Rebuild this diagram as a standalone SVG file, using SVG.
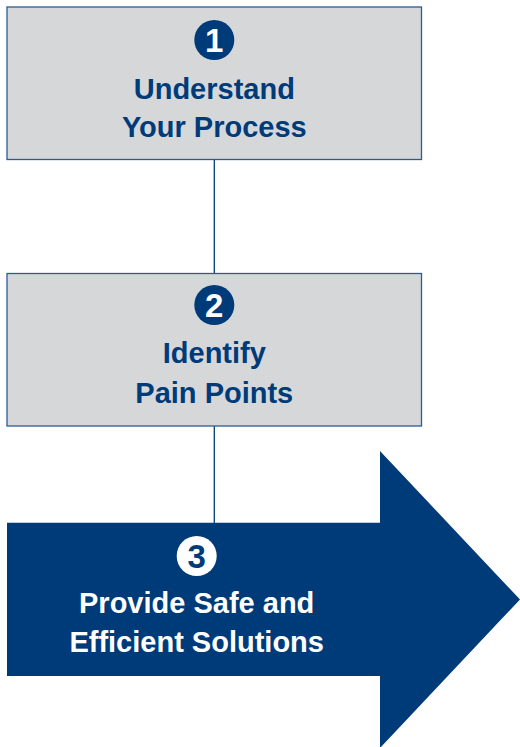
<svg xmlns="http://www.w3.org/2000/svg" width="520" height="747" viewBox="0 0 520 747">
<style>
.box{fill:#D6D7D9;stroke:#2D5A94;stroke-width:1.3}
.lbl{font-family:"Liberation Sans",Arial,sans-serif;font-weight:bold;font-size:29px;text-anchor:middle}
.blue{fill:#003B79}
.white{fill:#FFFFFF}
.num{font-family:"Liberation Sans",Arial,sans-serif;font-weight:bold;font-size:33px;text-anchor:middle}
.conn{stroke:#003B79;stroke-width:1.3;fill:none}
</style>
<rect width="520" height="747" fill="#FFFFFF"/>
<g id="connectors">
<line class="conn" x1="214.3" y1="160" x2="214.3" y2="273"/>
<line class="conn" x1="214.3" y1="426" x2="214.3" y2="523"/>
</g>
<g id="step1">
<rect class="box" x="7" y="7" width="414.5" height="152.5"/>
<circle class="blue" cx="214.3" cy="40" r="20"/>
<text class="num white" x="214.3" y="51.8">1</text>
<text class="lbl blue" x="214.3" y="99">Understand</text>
<text class="lbl blue" x="214.3" y="136.5">Your Process</text>
</g>
<g id="step2">
<rect class="box" x="7" y="273.5" width="414.5" height="152.5"/>
<circle class="blue" cx="214.3" cy="305" r="20"/>
<text class="num white" x="214.3" y="316.8">2</text>
<text class="lbl blue" x="214.3" y="363.3">Identify</text>
<text class="lbl blue" x="214.3" y="402.5">Pain Points</text>
</g>
<g id="step3">
<path class="blue" d="M7 522.7 H380 V451 L520 599.5 L380 748 V676 H7 Z"/>
<circle class="white" cx="196.7" cy="556" r="20"/>
<text class="num blue" x="196.7" y="567.8">3</text>
<text class="lbl white" x="196.7" y="613.3">Provide Safe and</text>
<text class="lbl white" x="196.7" y="652">Efficient Solutions</text>
</g>
</svg>
